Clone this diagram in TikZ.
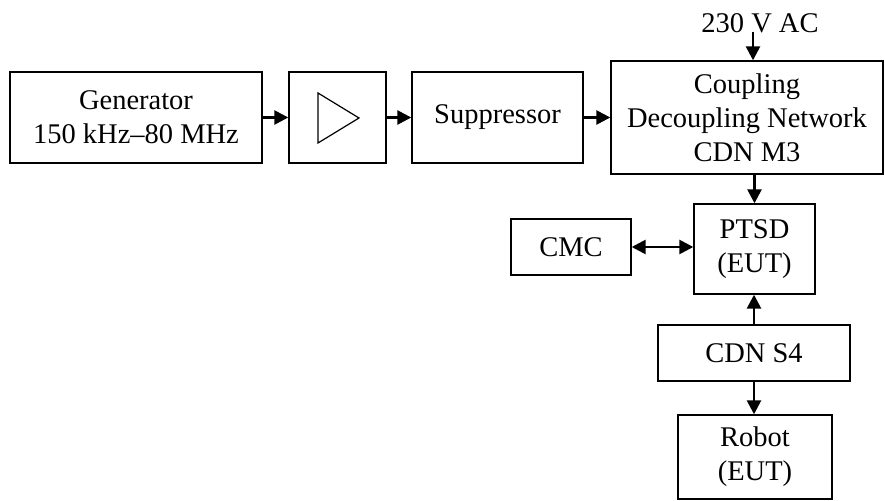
\documentclass[tikz,border=0pt]{standalone}
\usepackage{fontspec}
\setmainfont{Liberation Serif}
\usetikzlibrary{arrows.meta}
\begin{document}
\begin{tikzpicture}[x=1bp,y=-1bp,
  box/.style={draw,line width=1.4bp,inner sep=0pt,align=center,font=\fontsize{28.5bp}{34bp}\selectfont},
  conn/.style={line width=2.6bp,-{Triangle[length=14bp,width=14bp]}},
  bconn/.style={line width=2.6bp,{Triangle[length=14bp,width=14bp]}-{Triangle[length=14bp,width=14bp]}}]
\useasboundingbox (0,0) rectangle (885,501);
\node[box,minimum width=252bp,minimum height=91bp] (gen) at (136,117.5) {Generator\\150 kHz–80 MHz};
\node[box,minimum width=97bp,minimum height=91bp] (amp) at (337.5,117.5) {};
\draw[line width=1.2bp,line join=miter] (318,93) -- (359,118) -- (318,143) -- cycle;
\node[box,minimum width=171bp,minimum height=91bp] (sup) at (497.5,117.5) {Suppressor};
\node[box,minimum width=272bp,minimum height=113bp] (cdn) at (747,117.5) {Coupling\\Decoupling Network\\CDN M3};
\node[box,minimum width=121bp,minimum height=90bp] (ptsd) at (754.5,249) {PTSD\\(EUT)};
\node[box,minimum width=120bp,minimum height=56bp] (cmc) at (571,247) {CMC};
\node[box,minimum width=192bp,minimum height=56bp] (s4) at (754,353) {CDN S4};
\node[box,minimum width=154bp,minimum height=84bp] (robot) at (755,457) {Robot\\(EUT)};
\node[inner sep=0pt,anchor=base,font=\fontsize{28.5bp}{34bp}\selectfont] (ac) at (760,33) {230 V AC};
\coordinate (acin) at (753,32);
\draw[conn] (gen.east) -- (amp.west);
\draw[conn] (amp.east) -- (sup.west);
\draw[conn] (sup.east) -- (sup.east -| cdn.west);
\draw[conn] (acin) -- (acin |- cdn.north);
\draw[conn] (ptsd.north |- cdn.south) -- (ptsd.north);
\draw[bconn] (cmc.east) -- (cmc.east -| ptsd.west);
\draw[conn] (s4.north) -- (s4.north |- ptsd.south);
\draw[conn] (s4.south) -- (s4.south |- robot.north);
\end{tikzpicture}
\end{document}
